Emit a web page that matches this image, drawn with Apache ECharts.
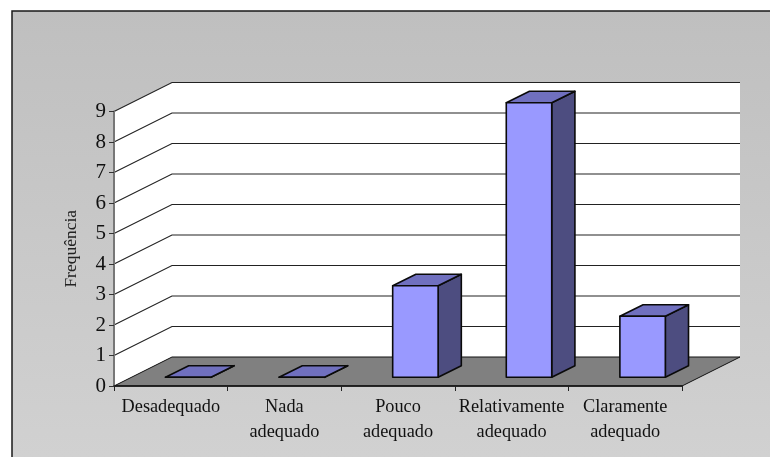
<!DOCTYPE html>
<html>
<head>
<meta charset="utf-8">
<style>html,body{margin:0;padding:0;background:#fff;}#chart{width:770px;height:457px;}</style>
<script src="https://cdn.jsdelivr.net/npm/echarts@6/dist/echarts.min.js"></script>
</head>
<body>
<div id="chart"></div>
<script>
// Response counts per rating category
const categories = ['Desadequado', 'Nada\nadequado', 'Pouco\nadequado', 'Relativamente\nadequado', 'Claramente\nadequado'];
const frequencies = [0, 0, 3, 9, 2];
const yTicks = [0, 1, 2, 3, 4, 5, 6, 7, 8, 9];

// Oblique projection used for the box: how far the back wall is shifted from the front plane
const DEPTH_X = 58;
const DEPTH_Y = 29;
const FONT = '"Liberation Serif", "Times New Roman", serif';

function poly(points, fill, stroke, lineWidth) {
  return {
    type: 'polygon',
    shape: { points },
    style: { fill, stroke: stroke || 'none', lineWidth: lineWidth || 0, lineJoin: 'round' }
  };
}

// Back wall, side wall and floor of the box
function renderBox(params, api) {
  const band = api.size([1, 0])[0];
  const o = api.coord([0, 0]);
  const t = api.coord([0, 9]);
  const left = o[0] - band / 2;
  const right = api.coord([categories.length - 1, 0])[0] + band / 2;
  const y0 = o[1], y9 = t[1];
  return {
    type: 'group',
    children: [
      poly([[left, y0], [left + DEPTH_X, y0 - DEPTH_Y], [left + DEPTH_X, y9 - DEPTH_Y], [left, y9]], '#ffffff'),
      poly([[left + DEPTH_X, y0 - DEPTH_Y], [right + DEPTH_X, y0 - DEPTH_Y], [right + DEPTH_X, y9 - DEPTH_Y], [left + DEPTH_X, y9 - DEPTH_Y]], '#ffffff'),
      poly([[left, y0], [left + DEPTH_X, y0 - DEPTH_Y], [right + DEPTH_X, y0 - DEPTH_Y], [right, y0]], '#808080', '#111111', 1)
    ]
  };
}

// One grid line per tick, bent along the side wall and across the back wall
function renderGridLine(params, api) {
  const band = api.size([1, 0])[0];
  const y = api.coord([0, api.value(0)])[1];
  const left = api.coord([0, 0])[0] - band / 2;
  const right = api.coord([categories.length - 1, 0])[0] + band / 2;
  return {
    type: 'polyline',
    shape: { points: [[left, y], [left + DEPTH_X, y - DEPTH_Y], [right + DEPTH_X, y - DEPTH_Y]] },
    style: { fill: 'none', stroke: '#222222', lineWidth: 1.1 }
  };
}

// Prism for one category: top, side and front faces
function renderBar(params, api) {
  const band = api.size([1, 0])[0];
  const base = api.coord([api.value(0), 0]);
  const top = api.coord([api.value(0), api.value(1)]);
  const halfW = band * 0.2;
  const sx = DEPTH_X * 0.3, sy = DEPTH_Y * 0.3;
  const dx = DEPTH_X * 0.4, dy = DEPTH_Y * 0.4;
  const x0 = base[0] - halfW + sx, x1 = base[0] + halfW + sx;
  const yb = base[1] - sy, yt = top[1] - sy;
  const edge = '#0a0a0a';
  return {
    type: 'group',
    children: [
      poly([[x1, yb], [x1 + dx, yb - dy], [x1 + dx, yt - dy], [x1, yt]], '#4d4d80', edge, 1.6),
      poly([[x0, yt], [x0 + dx, yt - dy], [x1 + dx, yt - dy], [x1, yt]], '#7070bf', edge, 1.6),
      poly([[x0, yb], [x1, yb], [x1, yt], [x0, yt]], '#9999ff', edge, 1.6)
    ]
  };
}

const chart = echarts.init(document.getElementById('chart'), null, { renderer: 'canvas' });
chart.setOption({
  animation: false,
  backgroundColor: '#ffffff',
  // Chart area panel: outlined on the top and left, running off the page on the other two sides
  graphic: [{
    type: 'rect',
    silent: true,
    z: -10,
    shape: { x: 12, y: 11, width: 780, height: 470 },
    style: {
      fill: new echarts.graphic.LinearGradient(0, 0, 0, 1, [
        { offset: 0, color: '#bfbfbf' },
        { offset: 1, color: '#d2d2d2' }
      ]),
      stroke: '#1a1a1a',
      lineWidth: 1.5
    }
  }],
  grid: { left: 114, right: 88, top: 111.5, bottom: 71, containLabel: false },
  xAxis: {
    type: 'category',
    data: categories,
    z: 5,
    axisLine: { show: true, lineStyle: { color: '#111111', width: 1.5 } },
    axisTick: { show: true, length: 5, alignWithLabel: false, lineStyle: { color: '#222222', width: 1 } },
    axisLabel: {
      interval: 0,
      margin: 9,
      color: '#111111',
      fontFamily: FONT,
      fontSize: 18.3,
      lineHeight: 24.5
    }
  },
  yAxis: {
    type: 'value',
    min: 0,
    max: 9,
    interval: 1,
    name: 'Frequência',
    nameLocation: 'middle',
    nameGap: 34,
    nameRotate: 90,
    nameTextStyle: { color: '#222222', fontFamily: FONT, fontSize: 17.5 },
    splitLine: { show: false },
    z: 5,
    axisLine: { show: true, lineStyle: { color: '#777777', width: 2 } },
    axisTick: { show: true, length: 5, lineStyle: { color: '#333333', width: 1 } },
    axisLabel: { margin: 8, color: '#111111', fontFamily: FONT, fontSize: 21 }
  },
  series: [
    {
      type: 'custom',
      name: 'box',
      silent: true,
      z: 1,
      renderItem: renderBox,
      data: [[0]]
    },
    {
      type: 'custom',
      name: 'gridLines',
      silent: true,
      z: 2,
      renderItem: renderGridLine,
      encode: { y: 0 },
      data: yTicks.slice(1).map(v => [v])
    },
    {
      type: 'custom',
      name: 'Frequência',
      silent: true,
      z: 3,
      renderItem: renderBar,
      encode: { x: 0, y: 1 },
      data: frequencies.map((v, i) => [i, v])
    }
  ]
});
</script>
</body>
</html>
